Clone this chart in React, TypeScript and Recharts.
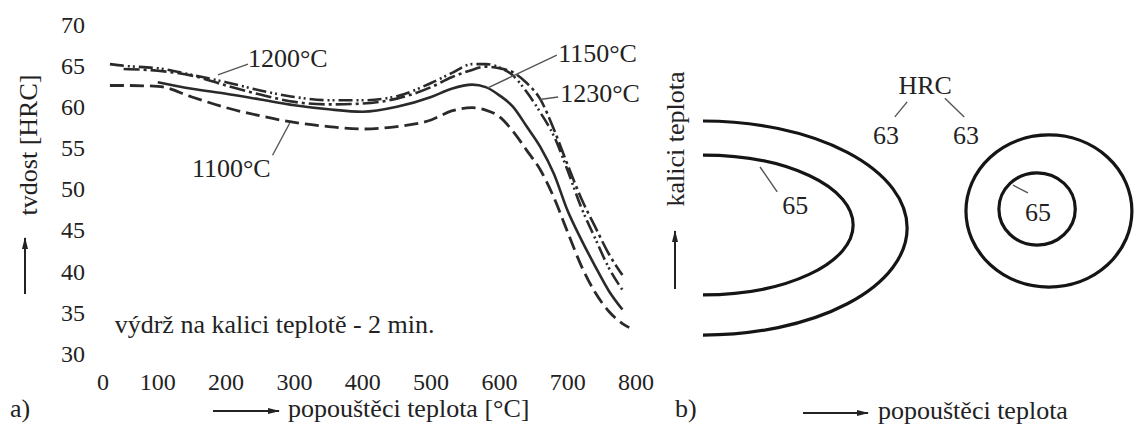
import {
  ComposedChart,
  Line,
  XAxis,
  YAxis,
  ReferenceArea,
  ReferenceLine,
  ReferenceDot,
  ScatterChart,
  Scatter,
} from 'recharts';

// popouštěci teplota [°C]
const temps = [30, 50, 100, 150, 200, 250, 300, 350, 400, 450, 500, 530, 560, 580, 600, 620, 640, 660, 680, 700, 720, 740, 760, 780, 790];
// tvrdost HRC pro kalici teploty
const hrc1100 = [62.6, 62.6, 62.5, 61.2, 59.9, 58.9, 58.1, 57.6, 57.3, 57.6, 58.4, 59.5, 59.9, 59.6, 58.8, 57.0, 54.7, 52.3, 48.9, 44.7, 40.6, 37.4, 35.1, 33.6, 33.1];
const hrc1150 = [null, null, 63.0, 62.2, 61.6, 60.9, 60.2, 59.7, 59.4, 60.0, 61.2, 62.2, 62.7, 62.4, 61.4, 60.0, 57.6, 55.1, 51.8, 47.3, 43.8, 40.6, 37.6, 35.3, null];
const hrc1200 = [65.2, 65.0, 64.7, 63.9, 63.0, 62.0, 61.2, 60.8, 60.8, 61.3, 62.9, 64.1, 65.2, 65.2, 64.8, 63.8, 61.8, 59.3, 56.4, 52.2, 47.7, 44.0, 40.4, 37.7, null];
const hrc1230 = [null, 64.6, 64.4, 63.8, 62.6, 61.5, 60.6, 60.3, 60.4, 61.0, 62.4, 63.6, 64.5, 64.9, 64.7, 64.2, 62.9, 60.9, 57.2, 52.9, 48.8, 45.4, 42.1, 39.5, null];

const xTicks = [20, 100, 200, 300, 400, 500, 600, 700, 800];
const yTicks = [30, 35, 40, 45, 50, 55, 60, 65, 70];

// popisky krivek (x = teplota, y = HRC)
const curveLabels = [
  { x: 232, y: 64.8, text: '1200°C' },
  { x: 150, y: 51.5, text: '1100°C' },
  { x: 686, y: 65.5, text: '1150°C' },
  { x: 689, y: 60.6, text: '1230°C' },
  { x: 37, y: 32.4, text: 'výdrž na kalici teplotě - 2 min.' },
];
const curveLeaders = [
  { x1: 188, y1: 63.9, x2: 232, y2: 65.2 },
  { x1: 268, y1: 54.1, x2: 293, y2: 58.0 },
  { x1: 684, y1: 66.3, x2: 583, y2: 62.3 },
  { x1: 686, y1: 61.2, x2: 659, y2: 60.9 },
];

// b) izolinie tvrdosti (relativni jednotky 0-100)
const contours = [
  { hrc: 63, cx: 0, cy: 38.4, rx: 46.5, ry: 31.4 },
  { hrc: 65, cx: 0, cy: 39.3, rx: 34.2, ry: 20.5 },
  { hrc: 63, cx: 78.8, cy: 43.4, rx: 18.9, ry: 22.3 },
  { hrc: 65, cx: 76.1, cy: 44.0, rx: 8.7, ry: 10.6 },
];
const contourLabels = [
  { x: 50.6, y: 80.1, text: 'HRC' },
  { x: 41.7, y: 65.4, text: '63' },
  { x: 59.9, y: 65.4, text: '63' },
  { x: 21.0, y: 44.9, text: '65' },
  { x: 76.3, y: 43.1, text: '65' },
];
const contourLeaders = [
  { x1: 46.5, y1: 75.4, x2: 43.7, y2: 71.0 },
  { x1: 55.1, y1: 76.5, x2: 59.5, y2: 71.0 },
  { x1: 16.9, y1: 49.0, x2: 13.0, y2: 56.3 },
  { x1: 74.0, y1: 48.7, x2: 70.6, y2: 51.0 },
];

const FONT = "'Liberation Serif', 'DejaVu Serif', serif";
const INK = '#222';
const LINE = '#2a2a2a';
const FRAME = '#9c9c9c';

const rows = temps.map((t, i) => ({
  t,
  h1100: hrc1100[i],
  h1150: hrc1150[i],
  h1200: hrc1200[i],
  h1230: hrc1230[i],
}));

const tickStyle = { fontSize: 24, fill: INK, fontFamily: FONT };

function EllipseShape(p: any) {
  return (
    <ellipse
      cx={p.x + p.width / 2}
      cy={p.y + p.height / 2}
      rx={Math.abs(p.width / 2)}
      ry={Math.abs(p.height / 2)}
      fill="none"
      stroke="#151515"
      strokeWidth={3.2}
      clipPath={p.clipPath}
    />
  );
}

function PanelA() {
  return (
    <ComposedChart width={660} height={440} data={rows} margin={{ top: 19, right: 13, bottom: 22, left: 0 }}>
      <XAxis
        dataKey="t"
        type="number"
        domain={[14, 816]}
        ticks={xTicks}
        tickFormatter={(v) => (v < 50 ? '0' : String(v))}
        axisLine={false}
        tickLine={false}
        tickSize={0}
        tickMargin={15}
        height={60}
        tick={tickStyle}
        interval={0}
      />
      <YAxis
        type="number"
        domain={[29.4, 70.7]}
        ticks={yTicks}
        axisLine={false}
        tickLine={false}
        tickSize={0}
        tickMargin={14}
        width={99}
        tick={tickStyle}
        interval={0}
      />
      <ReferenceArea fill="none" stroke={FRAME} strokeWidth={2} ifOverflow="visible" />
      <Line type="monotone" dataKey="h1100" stroke={LINE} strokeWidth={2.8} strokeDasharray="14 6" dot={false} isAnimationActive={false} />
      <Line type="monotone" dataKey="h1150" stroke={LINE} strokeWidth={2.6} dot={false} isAnimationActive={false} />
      <Line type="monotone" dataKey="h1200" stroke={LINE} strokeWidth={2.6} strokeDasharray="14 4 2 3 2 4" dot={false} isAnimationActive={false} />
      <Line type="monotone" dataKey="h1230" stroke={LINE} strokeWidth={2.6} strokeDasharray="16 4 3 4" dot={false} isAnimationActive={false} />
      {curveLeaders.map((s, i) => (
        <ReferenceLine
          key={'l' + i}
          segment={[{ x: s.x1, y: s.y1 }, { x: s.x2, y: s.y2 }]}
          stroke="#555"
          strokeWidth={1.4}
          ifOverflow="visible"
        />
      ))}
      {curveLabels.map((l, i) => (
        <ReferenceDot
          key={'t' + i}
          x={l.x}
          y={l.y}
          r={0}
          ifOverflow="visible"
          shape={(p: any) => (
            <text x={p.cx} y={p.cy} fontSize={26} fill={INK} style={{ fontFamily: FONT }}>
              {l.text}
            </text>
          )}
        />
      ))}
    </ComposedChart>
  );
}

function PanelB() {
  return (
    <ScatterChart width={482} height={440} margin={{ top: 18, right: 0, bottom: 81, left: 43 }}>
      <XAxis dataKey="x" type="number" domain={[0, 100]} hide />
      <YAxis dataKey="y" type="number" domain={[0, 100]} hide />
      <ReferenceArea fill="none" stroke={FRAME} strokeWidth={2} ifOverflow="visible" />
      {contours.map((c, i) => (
        <ReferenceArea
          key={'c' + i}
          x1={c.cx - c.rx}
          x2={c.cx + c.rx}
          y1={c.cy - c.ry}
          y2={c.cy + c.ry}
          ifOverflow="hidden"
          shape={EllipseShape}
        />
      ))}
      {contourLeaders.map((s, i) => (
        <ReferenceLine
          key={'k' + i}
          segment={[{ x: s.x1, y: s.y1 }, { x: s.x2, y: s.y2 }]}
          stroke="#555"
          strokeWidth={1.4}
          ifOverflow="visible"
        />
      ))}
      <Scatter
        data={contourLabels}
        isAnimationActive={false}
        shape={(p: any) => (
          <text x={p.cx} y={p.cy} textAnchor="middle" dominantBaseline="central" fontSize={26} fill={INK} style={{ fontFamily: FONT }}>
            {p.payload.text}
          </text>
        )}
      />
    </ScatterChart>
  );
}

const T = { fontSize: 26, fill: INK, style: { fontFamily: FONT } };

export default function App() {
  return (
    <div
      style={{
        position: 'absolute',
        left: 0,
        top: 0,
        width: 1140,
        height: 440,
        overflow: 'hidden',
        background: '#fff',
        fontFamily: FONT,
      }}
    >
      <div style={{ position: 'absolute', left: 0, top: 0 }}>
        <PanelA />
      </div>
      <div style={{ position: 'absolute', left: 660, top: 0 }}>
        <PanelB />
      </div>
      <svg width={1140} height={440} style={{ position: 'absolute', left: 0, top: 0, pointerEvents: 'none' }}>
        <defs>
          <marker id="ah" viewBox="0 0 12 8" refX="11" refY="4" markerWidth="12" markerHeight="8" markerUnits="userSpaceOnUse" orient="auto">
            <path d="M0,1 L12,4 L0,7 z" fill={INK} />
          </marker>
        </defs>
        {/* a) */}
        <text transform="translate(28,145) rotate(-90)" textAnchor="middle" dominantBaseline="central" {...T}>
          tvdost [HRC]
        </text>
        <line x1={25} y1={294} x2={25} y2={238} stroke={INK} strokeWidth={2} markerEnd="url(#ah)" />
        <text x={10} y={417} {...T}>a)</text>
        <line x1={213} y1={411} x2={279} y2={411} stroke={INK} strokeWidth={2} markerEnd="url(#ah)" />
        <text x={288} y={417} {...T}>popouštěci teplota [°C]</text>
        {/* b) */}
        <text transform="translate(675,139) rotate(-90)" textAnchor="middle" dominantBaseline="central" {...T}>
          kalici teplota
        </text>
        <line x1={675} y1={289} x2={675} y2={231} stroke={INK} strokeWidth={2} markerEnd="url(#ah)" />
        <text x={675} y={417} {...T}>b)</text>
        <line x1={803} y1={413} x2={868} y2={413} stroke={INK} strokeWidth={2} markerEnd="url(#ah)" />
        <text x={878} y={419} {...T}>popouštěci teplota</text>
      </svg>
    </div>
  );
}
